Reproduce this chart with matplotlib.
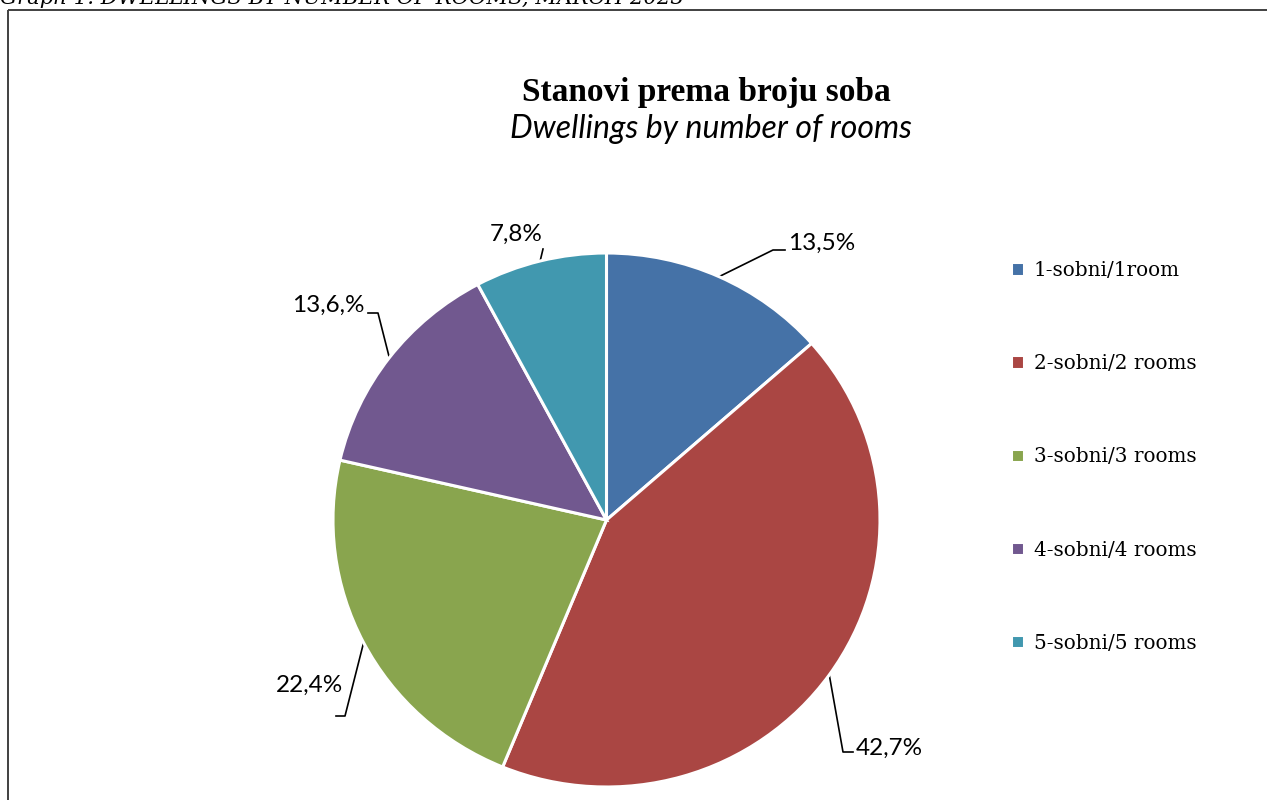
import matplotlib
matplotlib.use("Agg")
import matplotlib.pyplot as plt
import numpy as np

categories = ["1-sobni/1room", "2-sobni/2 rooms", "3-sobni/3 rooms", "4-sobni/4 rooms", "5-sobni/5 rooms"]
values = [13.5, 42.7, 22.4, 13.6, 7.8]
label_texts = ["13,5%", "42,7%", "22,4%", "13,6,%", "7,8%"]
colors = ["#4572A7", "#AA4643", "#89A54E", "#71588F", "#4198AF"]

W, H = 1267, 800
fig = plt.figure(figsize=(W / 100, H / 100), dpi=100)

# overlay axes in pixel coordinates (y up)
ax = fig.add_axes([0, 0, 1, 1])
ax.set_xlim(0, W)
ax.set_ylim(0, H)
ax.axis("off")

# pie axes (slightly wider than tall, as in the reference)
cx, cy = 606.5, 800 - 520
rx, ry = 273.5, 267
pax = fig.add_axes([(cx - rx) / W, (cy - ry) / H, 2 * rx / W, 2 * ry / H])
wedges, _ = pax.pie(values, colors=colors, startangle=90, counterclock=False,
                    radius=1, frame=True,
                    wedgeprops=dict(edgecolor="white", linewidth=2.2))
pax.set_aspect("auto")
pax.set_xlim(-1, 1)
pax.set_ylim(-1, 1)
pax.axis("off")

# frame of the chart area
ax.plot([8, 8], [0, 790], color="#404040", lw=1.4, solid_capstyle="butt")
ax.plot([8, W], [790, 790], color="#404040", lw=1.4, solid_capstyle="butt")

# clipped caption on top
fig.text(0.0, 1.0 - 4 / H, "Graph 1. DWELLINGS BY NUMBER OF ROOMS, MARCH 2023",
         ha="left", va="baseline", fontsize=15.3, style="italic", family="DejaVu Serif")

# titles
ax.text(706, 800 - 93, "Stanovi prema broju soba", ha="center", va="center",
        fontsize=24, fontweight="bold", family="Liberation Serif")
ax.text(711, 800 - 129, "Dwellings by number of rooms", ha="center", va="center",
        fontsize=23, style="italic", family="Lato")

# leader lines (elbow points) and label positions
layout = [
    dict(tx=788, ty=243, ha="left", pts=[(785, 250), (773, 250)]),
    dict(tx=856, ty=748, ha="left", pts=[(853, 752), (843, 752)]),
    dict(tx=343, ty=685, ha="right", pts=[(336, 716), (345, 716)]),
    dict(tx=365, ty=305, ha="right", pts=[(368, 313), (378, 313)]),
    dict(tx=543, ty=234, ha="right", pts=[(543, 249)]),
]
cum = 0.0
total = sum(values)
for i, (v, lab) in enumerate(zip(values, label_texts)):
    a0 = 90 - 360 * cum / total
    a1 = 90 - 360 * (cum + v) / total
    cum += v
    L = layout[i]
    ang = np.deg2rad((a0 + a1) / 2)
    ex, ey = cx + rx * np.cos(ang), cy + ry * np.sin(ang)
    xs = [p[0] for p in L["pts"]] + [ex]
    ys = [800 - p[1] for p in L["pts"]] + [ey]
    ax.plot(xs, ys, color="black", lw=1.2)
    ax.text(L["tx"], 800 - L["ty"], lab, ha=L["ha"], va="center",
            fontsize=17.5, family="Lato")

leg = fig.legend(wedges, categories, loc="upper left",
                 bbox_to_anchor=(1011 / W, 1 - 261 / H), frameon=False,
                 prop=dict(family="DejaVu Serif", size=14.4),
                 handlelength=0.65, handleheight=0.65, handletextpad=0.5,
                 labelspacing=3.71, borderaxespad=0, borderpad=0)

fig.savefig("out.png", dpi=100)
